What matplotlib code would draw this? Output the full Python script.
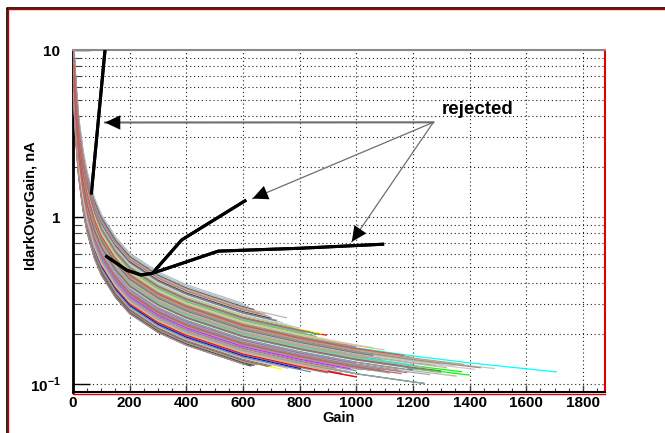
"""
plot.py

IdarkOverGain vs Gain for a batch of photodetectors, with three rejected
channels highlighted by arrows.
"""
import numpy as np
import matplotlib
matplotlib.use("Agg")
import matplotlib.pyplot as plt
from matplotlib.lines import Line2D
from matplotlib.ticker import FixedLocator, MultipleLocator, NullFormatter

# Data ----------------------------------------------------------
# typical (scale = 1) IdarkOverGain profile read off the band of curves
base_gain = [3, 6, 10, 20, 35, 50, 75, 100, 150, 200, 300, 400, 600, 800,
             1000, 1200, 1400, 1700, 1900]
base_idark = [8.0, 6.3, 4.8, 2.9, 1.85, 1.35, 0.95, 0.75, 0.55, 0.44, 0.34,
              0.285, 0.22, 0.185, 0.16, 0.143, 0.13, 0.115, 0.108]

# per-channel level (relative to the typical profile) and last gain point
channel_scale = [
    0.82, 1.14, 0.90, 1.13, 0.63, 1.05, 1.03, 0.95, 0.78, 1.30,
    0.60, 0.72, 0.98, 1.22, 0.86, 0.66, 1.08, 0.93, 0.99, 0.75,
    1.18, 0.84, 1.01, 0.62, 1.26, 0.88, 0.70, 0.96, 1.10, 0.72,
    0.80, 1.35, 0.92, 0.68, 1.16, 0.85, 1.02, 0.64, 1.20, 0.89,
    1.06, 0.77, 1.28, 0.94, 0.69, 1.12, 0.81, 1.00, 0.74,
    1.24, 0.69, 0.87, 0.67, 1.15, 0.76, 0.91, 1.09, 0.83, 0.97,
    0.61, 1.32, 0.79, 1.04, 0.71, 0.95, 1.19, 0.86, 1.07, 0.65,
    1.25, 0.93, 0.73, 1.11, 0.84, 0.98, 0.63, 1.17, 0.90, 0.78,
    1.03, 1.38, 0.87, 0.66, 1.13, 0.96, 0.75, 1.21, 0.82, 1.06,
    0.70, 1.00, 0.92, 1.27, 0.79, 0.60, 1.14, 0.88, 1.02,
]
channel_end = [
    1150, 896, 1373, 706, 737, 1000, 1708, 1250, 1050, 755,
    630, 1240, 1120, 720, 1300, 800, 900, 1200, 1490, 1000,
    760, 1355, 1200, 650, 690, 1150, 950, 1350, 850, 1242,
    1100, 620, 1090, 900, 780, 1200, 1040, 700, 740, 1126,
    950, 1020, 680, 1280, 1002, 820, 1180, 1000, 930,
    700, 1002, 1400, 801, 880, 980, 1200, 860, 1000, 1300,
    640, 640, 1080, 990, 900, 1420, 760, 1180, 1060, 760,
    700, 1320, 980, 820, 1150, 1440, 690, 800, 1250, 1120,
    930, 600, 1220, 840, 870, 1060, 1000, 720, 1260, 1100,
    900, 1380, 1030, 660, 1160, 610, 840, 1300, 1170,
]

# ROOT default colour indices 1..50 (white index 10 left out)
root_colors = [
    "#000000", "#ff0000", "#00ff00", "#0000ff", "#ffff00", "#ff00ff",
    "#00ffff", "#59d454", "#5954d9", "#c0b6ac", "#4c4c4c", "#666666",
    "#7f7f7f", "#999999", "#b2b2b2", "#cccccc", "#e5e5e5", "#f2f2f2",
    "#ccc6aa", "#c9c4a8", "#c1bfa8", "#bab5a3", "#b2a596", "#b7a39b",
    "#ad998c", "#9b8e82", "#876657", "#afcec6", "#84c1a3", "#89a8a0",
    "#829e8c", "#adbcc6", "#7a8e99", "#758a91", "#688296", "#6d7a84",
    "#7c99d1", "#7f7fa0", "#aaa5bf", "#d3ce87", "#ddba87", "#bc9e82",
    "#c69e7c", "#bf827f", "#ce5e60", "#aa8e93", "#a5777a", "#936870",
    "#d3594f",
]

# rejected channels
rej_a_gain = [3, 10, 20, 40, 65, 113, 125]
rej_a_idark = [8.5, 5.0, 3.3, 2.0, 1.39, 10.0, 14.0]
rej_b_gain = [3, 10, 30, 60, 119, 190, 240, 280, 384, 607]
rej_b_idark = [8.0, 5.2, 2.1, 1.1, 0.58, 0.48, 0.45, 0.46, 0.73, 1.25]
rej_c_gain = [3, 10, 30, 60, 119, 190, 240, 280, 513, 801, 1093]
rej_c_idark = [8.0, 5.2, 2.1, 1.1, 0.58, 0.48, 0.45, 0.46, 0.625, 0.65, 0.687]
rej_shown_from = [65, 119, 119]   # gain where each leaves the band

label_anchor = (1272, 3.69)
arrow_tips = [(113, 3.68), (634, 1.29), (984, 0.71)]
label_pos = (1428, 4.4)

# Style ---------------------------------------------------------
plt.rcParams["font.family"] = ["Liberation Sans", "DejaVu Sans"]
plt.rcParams["font.weight"] = "bold"
plt.rcParams["mathtext.fontset"] = "custom"
plt.rcParams["mathtext.rm"] = "Liberation Sans:bold"
plt.rcParams["mathtext.bf"] = "Liberation Sans:bold"

W, H = 665, 433
fig = plt.figure(figsize=(W / 100, H / 100), dpi=100)
ax = fig.add_axes([73 / W, 1 - 392 / H, 532 / W, 342 / H])

# Curves --------------------------------------------------------
# rejected channels: full curve under the band, the part outside it on top
rejected = [(rej_a_gain, rej_a_idark), (rej_b_gain, rej_b_idark),
            (rej_c_gain, rej_c_idark)]
for (g, v), g0 in zip(rejected, rej_shown_from):
    ax.plot(g, v, color="black", lw=2.2, solid_joinstyle="round", zorder=2)
    g = np.array(g)
    keep = g >= g0
    ax.plot(g[keep], np.array(v)[keep], color="black", lw=2.2,
            solid_joinstyle="round", zorder=3.5)

lg = np.log10(base_gain)
li = np.log10(base_idark)
for i, (s, g_end) in enumerate(zip(channel_scale, channel_end)):
    g = [x for x in base_gain if x < g_end] + [g_end]
    v = 10 ** np.interp(np.log10(g), lg, li) * s
    ax.plot(g, v, color=root_colors[i % len(root_colors)], lw=0.9,
            solid_capstyle="butt", zorder=3)

# Arrows --------------------------------------------------------
for k, tip in enumerate(arrow_tips):
    ax.plot([label_anchor[0], tip[0]], [label_anchor[1], tip[1]],
            color="#6e6e6e", lw=1.5 if k == 0 else 0.9, zorder=4)
    ax.annotate("", xy=tip, xytext=label_anchor, zorder=5,
                arrowprops=dict(arrowstyle="-|>,head_length=0.55,head_width=0.26",
                                color="black", lw=0, mutation_scale=20,
                                shrinkA=0, shrinkB=0))
ax.text(label_pos[0], label_pos[1], "rejected", fontsize=13.5,
        fontweight="bold", ha="center", va="center")

# Axes ----------------------------------------------------------
ax.set_yscale("log")
ax.set_xlim(0, 1878)
ax.set_ylim(0.0896, 10)

ax.xaxis.set_major_locator(MultipleLocator(200))
ax.xaxis.set_minor_locator(MultipleLocator(50))
ax.yaxis.set_major_locator(FixedLocator([0.1, 1, 10]))
ax.yaxis.set_minor_locator(FixedLocator(
    [m * d for d in (0.1, 1) for m in range(2, 10)]))
ax.yaxis.set_minor_formatter(NullFormatter())
ax.set_yticklabels(["$10^{-1}$", "1", "10"])

ax.tick_params(axis="x", which="major", direction="in", length=5, width=1,
               color="#404040", labelsize=11, pad=3)
ax.tick_params(axis="x", which="minor", direction="in", length=3, width=0.8,
               color="#404040")
ax.tick_params(axis="y", which="major", direction="in", length=12, width=1,
               color="black", labelsize=11, pad=9)
ax.tick_params(axis="y", which="minor", direction="in", length=6, width=0.8,
               color="#404040")
for lab in ax.get_xticklabels() + ax.get_yticklabels():
    lab.set_fontweight("bold")

ax.grid(which="major", axis="x", color="#202020", lw=0.8, ls=(0, (1, 2.5)))
ax.grid(which="both", axis="y", color="#202020", lw=0.8, ls=(0, (1, 2.5)))
ax.set_axisbelow(True)

ax.spines["left"].set_linewidth(2)
ax.spines["left"].set_color("black")
ax.spines["bottom"].set_linewidth(1.5)
ax.spines["bottom"].set_color("black")
ax.spines["right"].set_linewidth(1.5)
ax.spines["right"].set_color("#e00000")
ax.spines["top"].set_linewidth(1.5)
ax.spines["top"].set_color("#8a8a8a")

ax.set_xlabel("Gain", fontsize=10.5, fontweight="bold")
ax.set_ylabel("IdarkOverGain, nA", fontsize=10.5, fontweight="bold")
ax.xaxis.set_label_coords(0.5, -0.056)
ax.yaxis.set_label_coords(-0.066, 0.544)

# red rule under the x axis and the outer frame -------------------
fig.add_artist(Line2D([73 / W, 605 / W], [1 - 393.5 / H, 1 - 393.5 / H],
                      transform=fig.transFigure, color="#e00000", lw=1))
fig.add_artist(Line2D([6.5 / W, 6.5 / W, 1], [0, 1 - 7.5 / H, 1 - 7.5 / H],
                      transform=fig.transFigure, color="black", lw=1.2))
fig.add_artist(Line2D([8 / W, 8 / W, 1], [0, 1 - 9 / H, 1 - 9 / H],
                      transform=fig.transFigure, color="#c00000", lw=1.0))

fig.savefig("out.png", dpi=100)
